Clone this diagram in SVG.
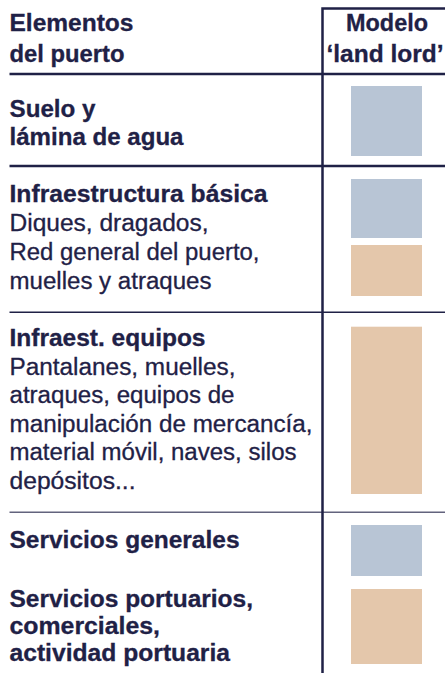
<svg xmlns="http://www.w3.org/2000/svg" width="445" height="673" viewBox="0 0 445 673">
<style>
text{font-family:"Liberation Sans",Arial,sans-serif;font-size:23px;fill:#1f2146;stroke:#1f2146;stroke-width:0.3}
.b{font-weight:bold}
.rule{stroke:#1f2146;fill:none}
.thick{stroke-width:2.5}
.thin{stroke-width:1.6}
.blue{fill:#b8c5d5}
.tan{fill:#e4c7ab}
</style>
<rect width="445" height="673" fill="#ffffff"/>
<g id="connectors">
<path class="rule thick" d="M322.5 673 V8.5 H445"/>
<line class="rule thick" x1="9.5" y1="74" x2="445" y2="74"/>
<line class="rule thick" x1="9.5" y1="166" x2="445" y2="166"/>
<line class="rule thin" x1="9.5" y1="312.3" x2="445" y2="312.3"/>
<line class="rule thin" x1="9.5" y1="512.3" x2="445" y2="512.3" stroke-opacity="0.7"/>
</g>
<g id="header">
<text class="b" x="9.5" y="30.5" textLength="124" lengthAdjust="spacingAndGlyphs">Elementos</text>
<text class="b" x="9.5" y="61.5" textLength="115" lengthAdjust="spacingAndGlyphs">del puerto</text>
<text class="b" x="346" y="30.5" textLength="82" lengthAdjust="spacingAndGlyphs">Modelo</text>
<text class="b" x="326.5" y="61.5" textLength="117" lengthAdjust="spacingAndGlyphs">‘land lord’</text>
</g>
<g id="suelo">
<text class="b" x="9.5" y="116.5" textLength="86" lengthAdjust="spacingAndGlyphs">Suelo y</text>
<text class="b" x="9.5" y="145" textLength="174" lengthAdjust="spacingAndGlyphs">lámina de agua</text>
<rect class="blue" x="351" y="86" width="71" height="70"/>
</g>
<g id="infra-basica">
<text class="b" x="9.5" y="202" textLength="258" lengthAdjust="spacingAndGlyphs">Infraestructura básica</text>
<text x="9.5" y="230.5" textLength="199" lengthAdjust="spacingAndGlyphs">Diques, dragados,</text>
<text x="9.5" y="259.5" textLength="250" lengthAdjust="spacingAndGlyphs">Red general del puerto,</text>
<text x="9.5" y="288.5" textLength="202" lengthAdjust="spacingAndGlyphs">muelles y atraques</text>
<rect class="blue" x="351" y="179" width="71" height="59"/>
<rect class="tan" x="351" y="245" width="71" height="51"/>
</g>
<g id="infra-equipos">
<text class="b" x="9.5" y="346" textLength="196" lengthAdjust="spacingAndGlyphs">Infraest. equipos</text>
<text x="9.5" y="374.5" textLength="226" lengthAdjust="spacingAndGlyphs">Pantalanes, muelles,</text>
<text x="9.5" y="403" textLength="225" lengthAdjust="spacingAndGlyphs">atraques, equipos de</text>
<text x="9.5" y="431.5" textLength="303" lengthAdjust="spacingAndGlyphs">manipulación de mercancía,</text>
<text x="9.5" y="460" textLength="287" lengthAdjust="spacingAndGlyphs">material móvil, naves, silos</text>
<text x="9.5" y="488.5" textLength="126" lengthAdjust="spacingAndGlyphs">depósitos...</text>
<rect class="tan" x="351" y="326.7" width="71" height="167.3"/>
</g>
<g id="servicios-generales">
<text class="b" x="9.5" y="548" textLength="230" lengthAdjust="spacingAndGlyphs">Servicios generales</text>
<rect class="blue" x="351" y="525" width="71" height="51"/>
</g>
<g id="servicios-portuarios">
<text class="b" x="9.5" y="606.5" textLength="243.5" lengthAdjust="spacingAndGlyphs">Servicios portuarios,</text>
<text class="b" x="9.5" y="633.5" textLength="150.5" lengthAdjust="spacingAndGlyphs">comerciales,</text>
<text class="b" x="9.5" y="660.5" textLength="220.5" lengthAdjust="spacingAndGlyphs">actividad portuaria</text>
<rect class="tan" x="351" y="589" width="71" height="75"/>
</g>
</svg>
